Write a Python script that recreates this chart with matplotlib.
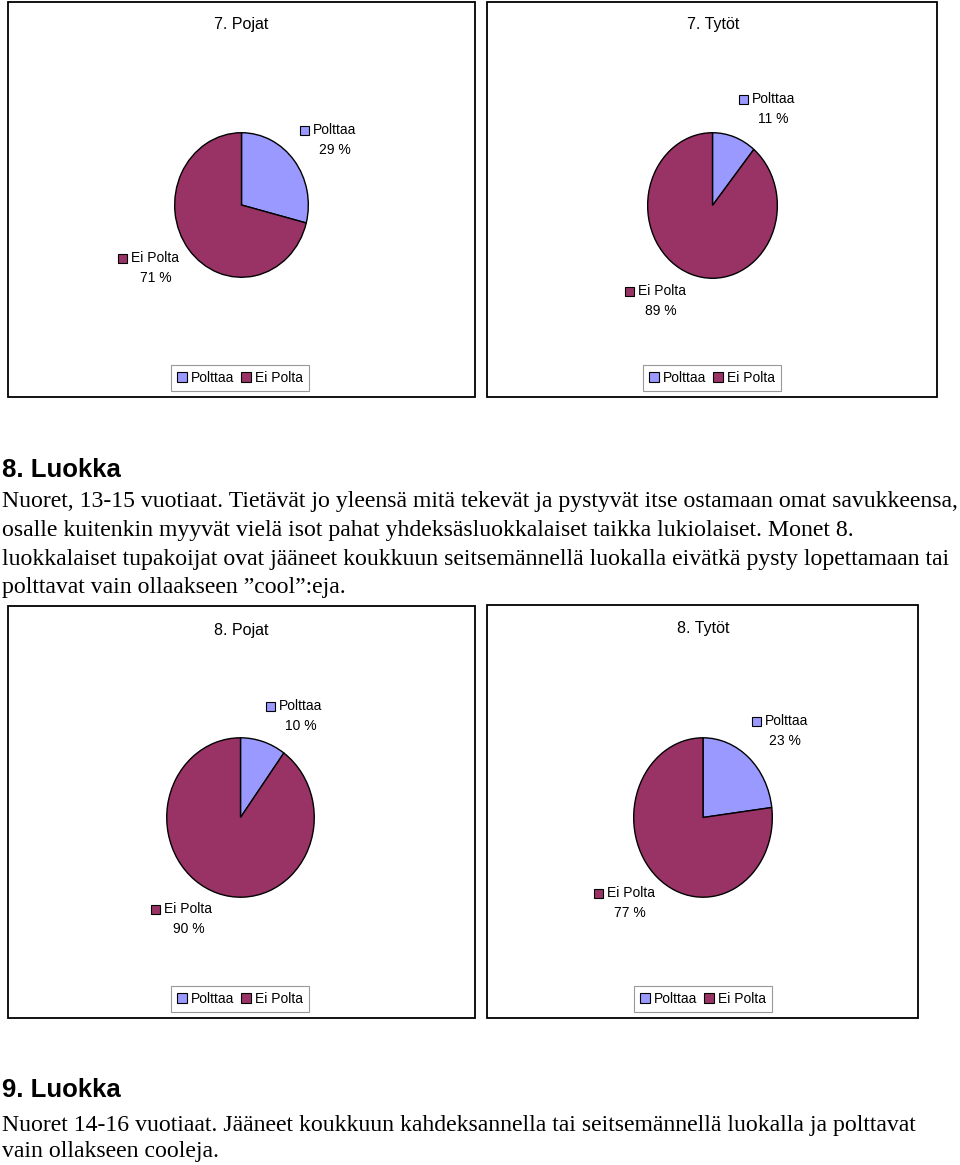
import matplotlib.pyplot as plt
from matplotlib.patches import Rectangle, Patch

# Chart data
titles = ["7. Pojat", "7. Tytöt", "8. Pojat", "8. Tytöt"]
categories = ["Polttaa", "Ei Polta"]
polttaa = [29, 11, 10, 23]
ei_polta = [71, 89, 90, 77]
colors = ['#9999FF', '#993366']

# Page text
heading_8 = "8. Luokka"
body_8 = ["Nuoret, 13-15 vuotiaat. Tietävät jo yleensä mitä tekevät ja pystyvät itse ostamaan omat savukkeensa,",
          "osalle kuitenkin myyvät vielä isot pahat yhdeksäsluokkalaiset taikka lukiolaiset. Monet 8.",
          "luokkalaiset tupakoijat ovat jääneet koukkuun seitsemännellä luokalla eivätkä pysty lopettamaan tai",
          "polttavat vain ollaakseen \u201dcool\u201d:eja."]
heading_9 = "9. Luokka"
body_9 = ["Nuoret 14-16 vuotiaat. Jääneet koukkuun kahdeksannella tai seitsemännellä luokalla ja polttavat",
          "vain ollakseen cooleja."]

W, H = 960, 1165
fig = plt.figure(figsize=(W / 100, H / 100), dpi=100)
fig.patch.set_facecolor('white')
page = fig.add_axes([0, 0, 1, 1])
page.set_xlim(0, W)
page.set_ylim(H, 0)
page.axis('off')

# layout (pixels): chart box, pie bounds, title pos, legend center, label positions
boxes = [(8, 2, 475, 397), (487, 2, 937, 397), (8, 606, 475, 1018), (487, 605, 918, 1018)]
pies = [(174, 132, 309, 278), (647, 132, 778, 279), (166, 737, 315, 898), (633, 737, 773, 898)]
title_pos = [(241, 24), (713, 24), (241, 631), (703, 629)]
legend_pos = [(240, 378), (712, 378), (240, 999), (703, 999)]
# (square x, text y, percent center x) for Polttaa / Ei Polta labels
lab_polttaa = [(300, 130, 335), (739, 99, 773), (266, 706, 301), (752, 721, 785)]
lab_ei = [(118, 258, 156), (625, 291, 661), (151, 909, 189), (594, 893, 630)]

sans = 'Liberation Sans'
serif = 'Liberation Serif'

for i in range(4):
    x0, y0, x1, y1 = boxes[i]
    page.add_patch(Rectangle((x0, y0), x1 - x0, y1 - y0, fill=False,
                             edgecolor='black', linewidth=1.3))
    page.text(title_pos[i][0], title_pos[i][1], titles[i], ha='center', va='center',
              fontsize=11.5, family=sans)

    px0, py0, px1, py1 = pies[i]
    ax = fig.add_axes([px0 / W, 1 - py1 / H, (px1 - px0) / W, (py1 - py0) / H])
    ax.pie([polttaa[i], ei_polta[i]], colors=colors, startangle=90, counterclock=False,
           wedgeprops=dict(edgecolor='black', linewidth=1.0))
    ax.set_aspect('auto')
    ax.set_xlim(-1.01, 1.01)
    ax.set_ylim(-1.01, 1.01)
    ax.axis('off')

    for (sx, ty, pcx), name, val, col in [(lab_polttaa[i], categories[0], polttaa[i], colors[0]),
                                         (lab_ei[i], categories[1], ei_polta[i], colors[1])]:
        page.add_patch(Rectangle((sx, ty - 4.5), 9, 9, facecolor=col, edgecolor='black', linewidth=0.8))
        page.text(sx + 13, ty, name, ha='left', va='center', fontsize=10, family=sans)
        page.text(pcx, ty + 20, f"{val} %", ha='center', va='center', fontsize=10, family=sans)

    handles = [Patch(facecolor=colors[0], edgecolor='black', linewidth=0.8),
               Patch(facecolor=colors[1], edgecolor='black', linewidth=0.8)]
    lx, ly = legend_pos[i]
    leg = fig.legend(handles, categories, loc='center', bbox_to_anchor=(lx / W, 1 - ly / H),
                     ncol=2, fancybox=False, edgecolor='#999999', framealpha=1,
                     prop=dict(family=sans, size=10), handlelength=0.7, handleheight=0.7,
                     handletextpad=0.3, columnspacing=0.45, borderpad=0.45, borderaxespad=0)
    leg.get_frame().set_linewidth(0.8)

# text paragraphs
page.text(2, 470, heading_8, ha='left', va='center', fontsize=18.5, fontweight='bold', family=sans)
for k, line in enumerate(body_8):
    page.text(2, 502 + k * 28.5, line, ha='left', va='center', fontsize=17.1, family=serif)
page.text(2, 1090, heading_9, ha='left', va='center', fontsize=18.5, fontweight='bold', family=sans)
for k, line in enumerate(body_9):
    page.text(2, 1125 + k * 27, line, ha='left', va='center', fontsize=17.1, family=serif)

fig.savefig('out.png', dpi=100, facecolor='white')
